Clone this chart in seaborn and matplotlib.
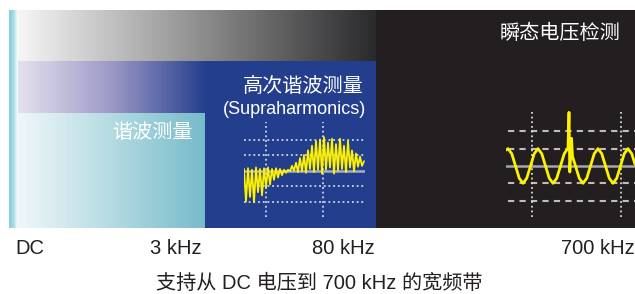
import numpy as np
import matplotlib.pyplot as plt
import seaborn as sns
from matplotlib.patches import Rectangle
from matplotlib.colors import LinearSegmentedColormap

# frequency bands (labels along the bottom) and box titles
band_labels = ["DC", "3 kHz", "80 kHz", "700 kHz"]
harm_title = "谐波测量"
supra_title = "高次谐波测量"
supra_sub = "(Supraharmonics)"
trans_title = "瞬态电压检测"
caption = "支持从 DC 电压到 700 kHz 的宽频带"

# supraharmonic waveform (x in px, y in grid steps)
supra_x = [0, 2, 4, 6, 8, 10, 12, 14, 16, 18, 20, 22, 24, 26, 28, 30,
           32, 34, 36, 38, 40, 42, 44, 46, 48, 50, 52, 54, 56, 58, 60,
           62, 64, 66, 68, 70, 72, 74, 76, 78, 80, 82, 84, 86, 88, 90,
           92, 94, 96, 98, 100, 102, 104, 106, 108, 110, 112, 114, 116,
           118, 120]
supra_y = [0.1, -2.0, 0.15, -1.7, 0.05, -2.05, 0.2, -1.4, 0.1, -1.6, 0.15,
           -1.1, 0.2, -0.9, 0.1, -0.6, 0.15, -0.45, 0.1, -0.3, 0.05, -0.15,
           0.05, -0.05, 0.3, 0.0, 0.5, -0.1, 0.8, -0.05, 1.0, -0.15, 1.3,
           0.1, 1.6, -0.1, 1.9, 0.05, 2.0, -0.2, 2.15, 0.05, 1.8, 0.2, 2.05,
           -0.2, 1.7, 0.0, 2.05, 0.1, 1.6, -0.1, 1.9, 0.2, 1.3, -0.05, 1.1,
           0.25, 0.9, 0.3, 0.6]

# transient waveform: mains sine with an impulse on it
trans_x = [0, 2, 5.75, 9.5, 13.25, 17, 20.75, 24.5, 28.25, 32, 35.75, 39.5,
           43.25, 47, 50.75, 54.5, 58.25, 61, 62, 63, 63.8, 65.5, 66.5, 69.5,
           73.25, 77, 80.75, 84.5, 88.25, 92, 95.75, 99.5, 103.25, 107,
           110.75, 114.5, 118.25, 122, 125.75, 129]
trans_y = [0.92, 1.0, 0.71, 0.0, -0.71, -1.0, -0.71, 0.0, 0.71, 1.0, 0.71,
           0.0, -0.71, -1.0, -0.71, 0.0, 0.71, 0.95, 1.0, 3.1, -0.35, 1.6,
           0.55, 0.0, -0.71, -1.0, -0.71, 0.0, 0.71, 1.0, 0.71, 0.0, -0.71,
           -1.0, -0.71, 0.0, 0.71, 1.0, 0.71, 0.1]

W, H = 635, 294
sns.set_theme(style="white")
mixed = ["Liberation Sans", "Noto Sans CJK SC", "DejaVu Sans"]
plt.rcParams["font.family"] = mixed

fig = plt.figure(figsize=(W / 100, H / 100), dpi=100)
fig.patch.set_facecolor("white")
ax = fig.add_axes([0, 0, 1, 1])


def hgrad(x0, x1, y0, y1, colors):
    cmap = LinearSegmentedColormap.from_list("g", colors)
    ax.imshow(np.linspace(0, 1, 256)[None, :], cmap=cmap, aspect="auto",
              extent=(x0, x1, y1, y0), interpolation="bilinear", zorder=1)


def box(x0, x1, y0, y1, color):
    ax.add_patch(Rectangle((x0, y0), x1 - x0, y1 - y0, color=color, lw=0, zorder=1))


# background bands
hgrad(9, 18, 10, 228, ["#86ccd8", "#a6dbe3", "#ffffff"])
hgrad(18, 376, 10, 61, ["#f6f6f6", "#2a2a2c"])
hgrad(18, 205, 61, 113, ["#e4e1ef", "#9c99c7", "#27408f"])
hgrad(18, 205, 113, 228, ["#f0f7f9", "#b4dbe2", "#77bbca"])
box(205, 376, 61, 228, "#243e8e")
box(376, 635, 10, 228, "#231f20")

# box titles
ax.text(152, 132, harm_title, color="white", fontsize=14.5,
        ha="center", va="center", zorder=3)
ax.text(303, 86, supra_title, color="white", fontsize=14.5,
        ha="center", va="center", zorder=3)
ax.text(294, 109, supra_sub, color="white", fontsize=13,
        ha="center", va="center", zorder=3)
ax.text(560, 33, trans_title, color="white", fontsize=14.5,
        ha="center", va="center", zorder=3)

# frequency labels and caption
for lab, xc in zip(band_labels, [30, 176, 343, 598]):
    ax.text(xc, 248, lab, color="#231f20", fontsize=14.5, ha="center", va="center")
ax.text(319, 283, caption, color="#231f20", fontsize=14.5,
        ha="center", va="center")

ax.set_xlim(0, W)
ax.set_ylim(H, 0)
ax.axis("off")


def inset(left, top, right, bottom):
    a = fig.add_axes([left / W, 1 - bottom / H, (right - left) / W, (bottom - top) / H])
    a.patch.set_alpha(0)
    a.axis("off")
    return a


# supraharmonics mini scope
a1 = inset(244, 121.7, 365, 217.8)
for g in [-2, -1, 1, 2]:
    a1.plot([0, 121], [g, g], color="#d3d6e6", lw=1.3, ls=(0, (1, 1.6)))
for v in [22, 79]:
    a1.plot([v, v], [-3.0, 3.13], color="#d3d6e6", lw=1.3, ls=(0, (1, 1.6)))
a1.plot([0, 121], [0, 0], color="#a9adc4", lw=1.8)
sns.lineplot(x=supra_x, y=supra_y, ax=a1, color="#fff200", lw=1.3,
             sort=False, estimator=None)
a1.set_xlim(0, 121)
a1.set_ylim(-3.05, 3.15)
a1.axis("off")

# transient mini scope
a2 = inset(506, 110.6, 635, 217.9)
for g in [-2, -1, 1, 2]:
    a2.plot([2, 129], [g, g], color="#bdbdbd", lw=1.5, ls=(0, (3, 2.5)))
for v in [26, 115]:
    a2.plot([v, v], [-2.95, 3.12], color="#d8d8d8", lw=1.3, ls=(0, (1, 1.6)))
a2.plot([0, 129], [0, 0], color="#a6a6a6", lw=1.8)
sns.lineplot(x=trans_x, y=trans_y, ax=a2, color="#fff200", lw=2.0,
             sort=False, estimator=None)
a2.set_xlim(0, 129)
a2.set_ylim(-3.0, 3.2)
a2.axis("off")

fig.savefig("out.png", dpi=100)
